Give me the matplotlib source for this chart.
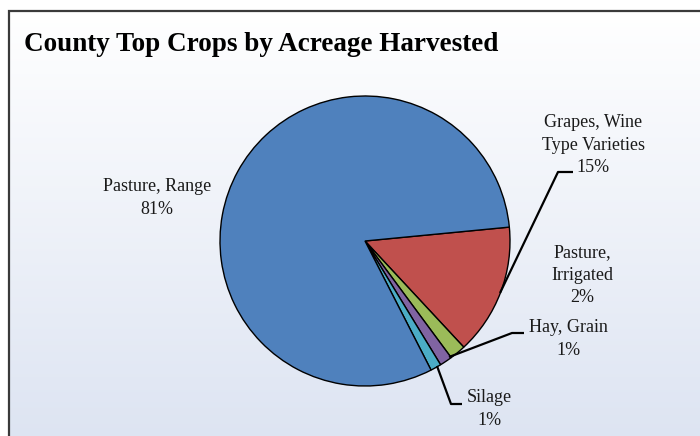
import numpy as np
import matplotlib
matplotlib.use("Agg")
import matplotlib.pyplot as plt
from matplotlib.patches import Rectangle

# Data (clockwise order starting at the Grapes slice)
categories = ["Grapes, Wine\nType Varieties", "Pasture,\nIrrigated", "Hay, Grain", "Silage", "Pasture, Range"]
values = [14.6, 1.8, 1.4, 1.2, 81.0]
pct_labels = ["15%", "2%", "1%", "1%", "81%"]
colors = ["#C0504D", "#9BBB59", "#8064A2", "#4BACC6", "#4F81BD"]
title = "County Top Crops by Acreage Harvested"

W, H = 700, 436
fig = plt.figure(figsize=(7, 4.36), dpi=100)
ax = fig.add_axes([0, 0, 1, 1])
ax.set_xlim(0, W)
ax.set_ylim(0, H)
ax.axis("off")

def Y(y):
    return H - y

# background gradient inside the frame
fx0, fy0 = 9, 11
grad = np.linspace(0, 1, 256)[:, None]
top = np.array([1.0, 1.0, 1.0])
bot = np.array([221, 228, 242]) / 255.0
img = top[None, None, :] * (1 - grad[:, :, None]) + bot[None, None, :] * grad[:, :, None]
img = np.repeat(img, 2, axis=1)
ax.imshow(img, extent=[fx0, W + 5, Y(H + 5), Y(fy0)], aspect="auto", zorder=0, interpolation="bilinear")
ax.add_patch(Rectangle((fx0, Y(H + 20)), W, H + 20 - fy0, fill=False, edgecolor="#3a3a3a", lw=1.6, zorder=1))

# pie
cx, cy, r = 365, 241, 145
wedges, _ = ax.pie(values, colors=colors, startangle=5.5, counterclock=False,
                   center=(cx, Y(cy)), radius=r, frame=True,
                   wedgeprops=dict(edgecolor="black", linewidth=1.0))
for w in wedges:
    w.set_zorder(2)
ax.set_xlim(0, W)
ax.set_ylim(0, H)
ax.set_aspect("equal")
ax.axis("off")

font = dict(family=["Liberation Serif", "DejaVu Serif"], fontsize=13, color="#1a1a1a")
ls = 1.45

ax.text(157, Y(198), categories[4] + "\n" + pct_labels[4], ha="center", va="center", linespacing=ls, **font)
ax.text(593, Y(145), categories[0] + "\n" + pct_labels[0], ha="center", va="center", linespacing=ls, **font)
ax.text(582, Y(275), categories[1] + "\n" + pct_labels[1], ha="center", va="center", linespacing=ls, **font)
ax.text(568, Y(339), categories[2] + "\n" + pct_labels[2], ha="center", va="center", linespacing=ls, **font)
ax.text(489, Y(409), categories[3] + "\n" + pct_labels[3], ha="center", va="center", linespacing=ls, **font)

lk = dict(color="black", lw=1.6, zorder=3, solid_capstyle="butt")
ax.plot([500, 558, 573], [Y(293), Y(172), Y(172)], **lk)
ax.plot([449, 512, 524], [Y(357), Y(333), Y(333)], **lk)
ax.plot([437, 451, 462], [Y(366), Y(404), Y(404)], **lk)

ax.text(24, Y(45), title, ha="left", va="center", fontsize=19.5, fontweight="bold",
        family=["Liberation Serif", "DejaVu Serif"], color="black")

fig.savefig("out.png", dpi=100)
